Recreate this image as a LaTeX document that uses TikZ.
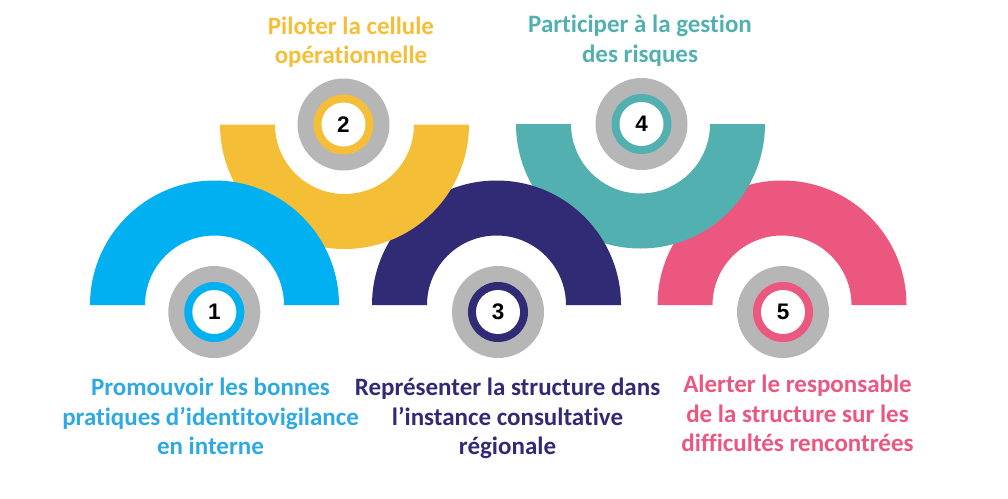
\documentclass[tikz,border=0pt]{standalone}
\usepackage{fontspec}
\setmainfont{Carlito}[RawFeature={-liga}]
\newfontfamily\numfont{Liberation Sans}
\definecolor{cA}{HTML}{00B0F0}
\definecolor{cB}{HTML}{F4BF36}
\definecolor{cC}{HTML}{312A75}
\definecolor{cD}{HTML}{52B1B0}
\definecolor{cE}{HTML}{EB577F}
\definecolor{tA}{HTML}{2EA9E1}
\definecolor{ringgray}{HTML}{B6B6B6}
\tikzset{
  label/.style={align=center, inner sep=0pt, anchor=north, font=\fontsize{25}{29.6}\selectfont\bfseries},
  grayring/.style={circle, fill=ringgray, minimum size=92pt, inner sep=0pt},
  colring/.style={circle, minimum size=60pt, inner sep=0pt},
  whitedot/.style={circle, fill=white, minimum size=44pt, inner sep=0pt, font=\fontsize{22.5}{22.5}\selectfont\numfont\bfseries},
}
\newcommand{\domearch}[3]{% cx, cy, colour
  \fill[#3] (#1-124.5,#2) arc[start angle=180, end angle=360, radius=124.5]
    -- (#1+69.5,#2) arc[start angle=0, end angle=-180, radius=69.5] -- cycle;}
\newcommand{\bowlarch}[3]{%
  \fill[#3] (#1-124.5,#2) arc[start angle=180, end angle=0, radius=124.5]
    -- (#1+69.5,#2) arc[start angle=0, end angle=180, radius=69.5] -- cycle;}
\newcommand{\badge}[4]{% number, x, y, colour
  \node[grayring] (g#1) at (#2,#3) {};
  \node[colring, fill=#4] (c#1) at (#2,#3) {};
  \node[whitedot] (n#1) at (#2,#3) {#1};}
\begin{document}
\begin{tikzpicture}[x=1pt,y=-1pt]
\useasboundingbox (0,0) rectangle (1008,498);
% arches, back to front
\domearch{782}{305}{cE}
\bowlarch{640.5}{124}{cD}
\domearch{496.5}{305}{cC}
\bowlarch{344.5}{124.5}{cB}
\domearch{214.5}{305}{cA}
% badges
\badge{1}{214.3}{312}{cA}
\badge{2}{343.5}{124.5}{cB}
\badge{3}{498}{312}{cC}
\badge{4}{641.5}{124}{cD}
\badge{5}{783}{312}{cE}
% labels
\node[label, text=tA] (t1) at (210.5,378) {Promouvoir les bonnes\\pratiques d’identitovigilance\\en interne};
\node[label, text=cB] (t2) at (351,16.5) {Piloter la cellule\\opérationnelle};
\node[label, text=cC] (t3) at (507.5,378) {Représenter la structure dans\\l’instance consultative\\régionale};
\node[label, text=cD] (t4) at (640,15) {Participer à la gestion\\des risques};
\node[label, text=cE] (t5) at (797.5,375) {Alerter le responsable\\de la structure sur les\\difficultés rencontrées};
\end{tikzpicture}
\end{document}
